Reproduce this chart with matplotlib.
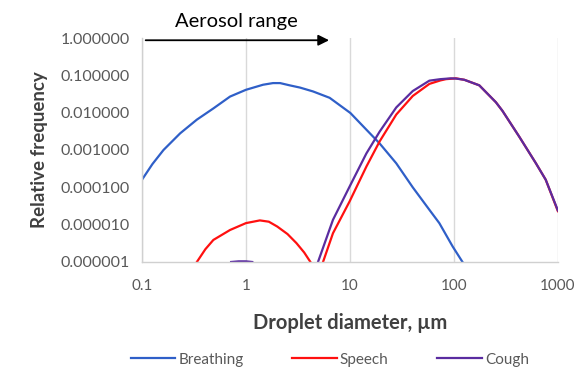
import numpy as np
import matplotlib
matplotlib.use('Agg')
import matplotlib.pyplot as plt
from matplotlib.ticker import FixedLocator, FuncFormatter

plt.rcParams['font.family'] = ['Lato', 'DejaVu Sans']

# droplet diameter (um) and relative frequency
breathing_d = [0.1, 0.126, 0.161, 0.233, 0.337, 0.486, 0.703, 1.0, 1.46, 1.82, 2.13, 2.63, 3.31, 4.42,
               6.38, 10.1, 14.4, 19.3, 27.9, 40.2, 58.1, 72.4, 97.3, 121]
breathing_f = [1.6e-4, 4.2e-4, 1.0e-3, 2.8e-3, 6.5e-3, 1.3e-2, 2.7e-2, 4.1e-2, 5.6e-2, 6.2e-2, 6.2e-2, 5.4e-2, 4.7e-2, 3.7e-2,
               2.5e-2, 9.8e-3, 3.5e-3, 1.5e-3, 4.4e-4, 1.0e-4, 2.5e-5, 1.1e-5, 2.6e-6, 1.0e-6]

speech_d = [0.337, 0.407, 0.486, 0.703, 1.0, 1.36, 1.66, 2.0, 2.51, 3.06, 3.63, 4.17, np.nan,
            5.51, 6.87, 9.93, 14.4, 19.3, 27.9, 40.2, 58.1, 74.1, 83.9, 104.7, 125.9,
            175.4, 253.5, 293, 424, 612, 764, 1000]
speech_f = [1e-6, 2.2e-6, 3.9e-6, 7.2e-6, 1.1e-5, 1.3e-5, 1.2e-5, 8.9e-6, 5.6e-6, 3.2e-6, 1.8e-6, 1e-6, np.nan,
            1e-6, 5.9e-6, 4.2e-5, 3.6e-4, 1.7e-3, 8.9e-3, 2.8e-2, 5.9e-2, 7.3e-2, 7.9e-2, 8.3e-2, 7.6e-2,
            5.4e-2, 1.9e-2, 1.12e-2, 2.3e-3, 4.5e-4, 1.6e-4, 2.3e-5]

cough_d = [0.72, 0.85, 1.0, 1.15, np.nan,
           4.93, 6.87, 9.93, 14.4, 19.3, 27.9, 40.2, 58.1, 74.1, 93.3, 104.7, 125.9,
           175.4, 253.5, 293, 424, 612, 764, 1000]
cough_f = [1e-6, 1.04e-6, 1.04e-6, 1e-6, np.nan,
           1e-6, 1.35e-5, 1.05e-4, 8.1e-4, 3.1e-3, 1.38e-2, 3.8e-2, 7.2e-2, 7.9e-2, 8.3e-2, 8.2e-2, 7.6e-2,
           5.4e-2, 1.9e-2, 1.12e-2, 2.3e-3, 4.5e-4, 1.6e-4, 2.4e-5]

x_ticks = [0.1, 1, 10, 100, 1000]
y_ticks = [1e-6, 1e-5, 1e-4, 1e-3, 1e-2, 1e-1, 1]
aerosol_end = 6.7

fig = plt.figure(figsize=(5.86, 3.69), dpi=100)
ax = fig.add_axes([0.2423, 0.290, 0.7097, 0.607])

ax.plot(breathing_d, breathing_f, color='#2f5fc8', lw=1.6, label='Breathing')
ax.plot(speech_d, speech_f, color='#ff1010', lw=1.6, label='Speech')
ax.plot(cough_d, cough_f, color='#5a2ca0', lw=1.6, label='Cough')

ax.set_xscale('log')
ax.set_yscale('log')
ax.set_xlim(0.1, 1000)
ax.set_ylim(1e-6, 1)

ax.xaxis.set_major_locator(FixedLocator(x_ticks))
ax.xaxis.set_minor_locator(FixedLocator([]))
ax.yaxis.set_major_locator(FixedLocator(y_ticks))
ax.yaxis.set_minor_locator(FixedLocator([]))
ax.xaxis.set_major_formatter(FuncFormatter(lambda v, p: f'{v:g}'))
ax.yaxis.set_major_formatter(FuncFormatter(lambda v, p: f'{v:.6f}'))
ax.tick_params(axis='both', length=0, labelcolor='#595959')
ax.tick_params(axis='x', pad=12, labelsize=11)
ax.tick_params(axis='y', pad=9, labelsize=11.5)

ax.grid(axis='x', color='#d9d9d9', lw=1)
ax.set_axisbelow(True)
for s in ['top', 'right']:
    ax.spines[s].set_visible(False)
for s in ['left', 'bottom']:
    ax.spines[s].set_color('#d0d0d0')
    ax.spines[s].set_linewidth(1)

ax.set_xlabel('Droplet diameter, \u00b5m', fontsize=14.5, fontweight='bold', color='#404040', labelpad=15)
ax.set_ylabel('Relative frequency', fontsize=13.5, fontweight='bold', color='#404040', labelpad=9)

# aerosol range arrow
ax.annotate('', xy=(aerosol_end, 0.99), xytext=(0.102, 0.99),
            xycoords=('data', 'axes fraction'), textcoords=('data', 'axes fraction'),
            arrowprops=dict(arrowstyle='-|>', color='black', lw=1.3, mutation_scale=16),
            annotation_clip=False)
ax.text(0.226, 1.072, 'Aerosol range', transform=ax.transAxes, ha='center', va='center',
        fontsize=14.5, color='black')

leg = fig.legend(loc='center', bbox_to_anchor=(0.563, 0.025), ncol=3, frameon=False,
                 fontsize=11, handlelength=2.9, handletextpad=0.2, columnspacing=3.2)
for t in leg.get_texts():
    t.set_color('#595959')

fig.savefig('out.png', dpi=100)
